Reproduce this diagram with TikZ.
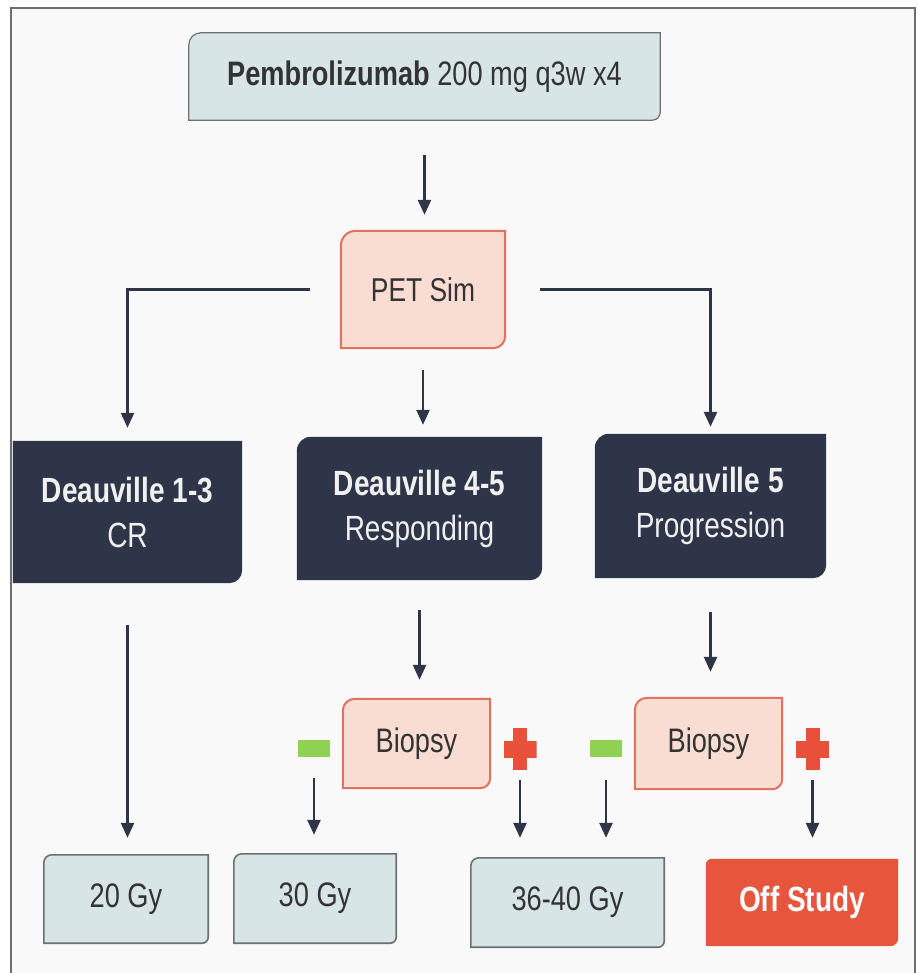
\documentclass[tikz,border=0pt]{standalone}
\usepackage{fontspec}
\setmainfont{Liberation Sans}[FakeStretch=0.8]
\usetikzlibrary{arrows.meta,backgrounds}

\definecolor{framegray}{HTML}{6E6E6E}
\definecolor{panelbg}{HTML}{F9F9F9}
\definecolor{arrownavy}{HTML}{2F3447}
\definecolor{textgray}{HTML}{333333}
\definecolor{bluegray}{HTML}{D8E5E7}
\definecolor{bluegrayline}{HTML}{6A7173}
\definecolor{salmon}{HTML}{F9DCD2}
\definecolor{salmonline}{HTML}{E2715F}
\definecolor{navybox}{HTML}{2E3548}
\definecolor{offred}{HTML}{E8553D}
\definecolor{minusgreen}{HTML}{8FD152}
\definecolor{plusred}{HTML}{E8503A}

% box outline with a rounded top-left and bottom-right corner
\newcommand{\tabshape}[4]{%
  \path[#2] (#1.south west) -- ([yshift=-#3]#1.north west)
    arc[start angle=180, end angle=90, radius=#3]
    -- (#1.north east) -- ([yshift=#4]#1.south east)
    arc[start angle=0, end angle=-90, radius=#4] -- cycle;}

\begin{document}
\begin{tikzpicture}[x=1pt, y=-1pt,
    box/.style={inner sep=0pt, align=center, text=textgray},
    arr/.style={draw=arrownavy, line width=2.5pt, -{Triangle[width=13pt,length=15pt]}},
    dauvbox/.style={box, text=white!94!black, font=\fontsize{35}{45}\selectfont},
    minussign/.style={fill=minusgreen, minimum width=32pt, minimum height=17pt, inner sep=0pt},
    plussign/.style={minimum width=33pt, minimum height=42pt, inner sep=0pt,
        path picture={
            \fill[plusred] ([xshift=-7pt]path picture bounding box.north) rectangle ([xshift=7pt]path picture bounding box.south);
            \fill[plusred] ([yshift=8.5pt]path picture bounding box.west) rectangle ([yshift=-8.5pt]path picture bounding box.east);
        }}]
    \useasboundingbox (0,0) rectangle (917,973);

    % Treatment and scan
    \node[box, minimum width=471pt, minimum height=87pt, font=\fontsize{34}{40}\selectfont] (pembro) at (424.5,76.5)
        {\textbf{Pembrolizumab} 200 mg q3w x4};
    \node[box, minimum width=164pt, minimum height=117pt, font=\fontsize{33}{40}\selectfont] (petsim) at (423,289.5) {PET Sim};

    % Deauville score
    \node[dauvbox, minimum width=229pt, minimum height=142pt] (dauv13) at (127.5,512) {\textbf{Deauville 1-3}\\CR};
    \node[dauvbox, minimum width=245pt, minimum height=143pt] (dauv45) at (419.5,508.5) {\textbf{Deauville 4-5}\\Responding};
    \node[dauvbox, minimum width=231pt, minimum height=144pt] (dauv5) at (710.5,506) {\textbf{Deauville 5}\\Progression};

    % Biopsy and result signs
    \node[box, minimum width=147pt, minimum height=89pt, font=\fontsize{34}{40}\selectfont] (biopsyA) at (416.5,743.5) {Biopsy};
    \node[box, minimum width=147pt, minimum height=91pt, font=\fontsize{34}{40}\selectfont] (biopsyB) at (708.5,743.5) {Biopsy};
    \node[minussign] (negA) at (314,748.5) {};
    \node[plussign] (posA) at (520,749) {};
    \node[minussign] (negB) at (606,748.5) {};
    \node[plussign] (posB) at (812.5,749) {};

    % Dose
    \node[box, minimum width=164pt, minimum height=88pt, font=\fontsize{34}{40}\selectfont] (gyTwenty) at (126,899) {20 Gy};
    \node[box, minimum width=162pt, minimum height=89pt, font=\fontsize{34}{40}\selectfont] (gyThirty) at (315,898.5) {30 Gy};
    \node[box, minimum width=193pt, minimum height=89pt, font=\fontsize{34}{40}\selectfont] (gyHigh) at (567.5,902.5) {36-40 Gy};
    \node[box, text=white, minimum width=192pt, minimum height=87pt, font=\fontsize{35}{40}\selectfont\bfseries] (offstudy) at (802,902.5) {Off Study};

    % Arrows
    \draw[arr, shorten <=35pt, shorten >=16pt] (pembro.south) -- (pembro.south |- petsim.north);
    \draw[arr, shorten <=31pt, shorten >=13pt] (petsim.west) -| (dauv13.north);
    \draw[arr, shorten <=35pt, shorten >=7pt] (petsim.east) -| (dauv5.north);
    \draw[arr, shorten <=22pt, shorten >=12pt] (petsim.south) -- (petsim.south |- dauv45.north);
    \draw[arr, shorten <=42pt, shorten >=17pt] (dauv13.south) -- (dauv13.south |- gyTwenty.north);
    \draw[arr, shorten <=30pt, shorten >=19pt] (dauv45.south) -- (dauv45.south |- biopsyA.north);
    \draw[arr, shorten <=34pt, shorten >=26pt] (dauv5.south) -- (dauv5.south |- biopsyB.north);
    \draw[arr, shorten <=21pt, shorten >=19pt] (negA.south) -- (negA.south |- gyThirty.north);
    \draw[arr, shorten <=10pt, shorten >=20pt] (posA.south) -- (posA.south |- gyHigh.north);
    \draw[arr, shorten <=23pt, shorten >=20pt] (negB.south) -- (negB.south |- gyHigh.north);
    \draw[arr, shorten <=10pt, shorten >=21pt] (posB.south) -- (posB.south |- offstudy.north);

    \begin{pgfonlayer}{background}
        % Panel and frame
        \fill[white] (0,0) rectangle (917,973);
        \fill[panelbg] (11,8) rectangle (915,973);
        \draw[framegray, line width=2.5pt] (11,975) -- (11,8) -- (915,8) -- (915,975);

        % Box outlines
        \tabshape{pembro}{fill=bluegray, draw=bluegrayline, line width=1.2pt}{12pt}{8pt}
        \tabshape{petsim}{fill=salmon, draw=salmonline, line width=2pt}{15pt}{12pt}
        \tabshape{dauv13}{fill=navybox}{0.1pt}{13pt}
        \tabshape{dauv45}{fill=navybox}{14pt}{12pt}
        \tabshape{dauv5}{fill=navybox}{14pt}{13pt}
        \tabshape{biopsyA}{fill=salmon, draw=salmonline, line width=2pt}{12pt}{10pt}
        \tabshape{biopsyB}{fill=salmon, draw=salmonline, line width=2pt}{12pt}{10pt}
        \tabshape{gyTwenty}{fill=bluegray, draw=bluegrayline, line width=1.6pt}{8pt}{6pt}
        \tabshape{gyThirty}{fill=bluegray, draw=bluegrayline, line width=1.6pt}{8pt}{6pt}
        \tabshape{gyHigh}{fill=bluegray, draw=bluegrayline, line width=1.6pt}{8pt}{6pt}
        \tabshape{offstudy}{fill=offred}{6pt}{8pt}
    \end{pgfonlayer}
\end{tikzpicture}
\end{document}
